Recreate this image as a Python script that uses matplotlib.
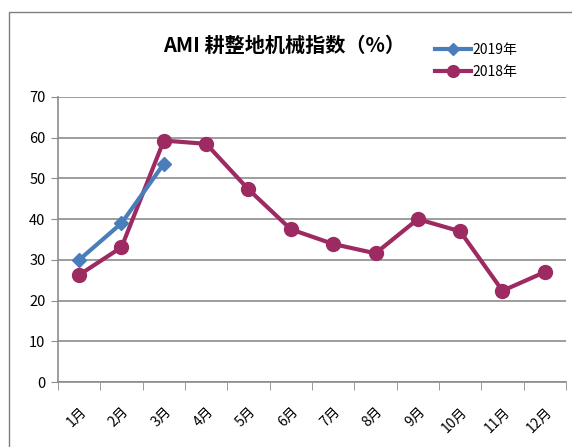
import numpy as np
import matplotlib
matplotlib.use("Agg")
import matplotlib.pyplot as plt
from matplotlib.patches import Rectangle

plt.rcParams['font.family'] = ['Noto Sans CJK SC', 'DejaVu Sans']

months = ['1月', '2月', '3月', '4月', '5月', '6月', '7月', '8月', '9月', '10月', '11月', '12月']
ami_2019 = [30.0, 39.0, 53.6]
ami_2018 = [26.3, 33.1, 59.3, 58.5, 47.3, 37.5, 33.9, 31.6, 40.0, 37.0, 22.4, 27.0]

blue = '#4a7ebb'
plum = '#9e2a62'
grid_col = '#8c8c8c'

fig = plt.figure(figsize=(5.72, 4.47), dpi=100)
ax = fig.add_axes([58 / 572, 65 / 447, 508 / 572, 285 / 447])

# outer chart frame (cut off at right and bottom)
fig.patches.append(Rectangle((9 / 572, -0.05), 1.2, 1 - 12 / 447 + 0.05,
                             transform=fig.transFigure, fill=False,
                             edgecolor='#7f7f7f', linewidth=1.0))

x = np.arange(len(months))
ax.plot(x[:len(ami_2019)], ami_2019, color=blue, lw=3, marker='D', ms=7,
        label='2019年', zorder=4)
ax.plot(x, ami_2018, color=plum, lw=3, marker='o', ms=10,
        label='2018年', zorder=3)

ax.set_xlim(-0.5, 11.5)
ax.set_ylim(0, 70)
ax.set_yticks(np.arange(0, 71, 10))
ax.yaxis.grid(True, color=grid_col, lw=1.2)
ax.set_axisbelow(True)
ax.tick_params(axis='y', length=5, color=grid_col, labelsize=10.5, pad=4)

ax.set_xticks(x)
ax.set_xticklabels(months, rotation=45, ha='right', va='top',
                   rotation_mode='anchor', fontsize=10)
ax.tick_params(axis='x', which='major', length=0, pad=16)
ax.set_xticks(np.arange(-0.5, 12, 1), minor=True)
ax.tick_params(axis='x', which='minor', length=6, color=grid_col)

for s in ['top', 'right']:
    ax.spines[s].set_visible(False)
for s in ['left', 'bottom']:
    ax.spines[s].set_color(grid_col)
    ax.spines[s].set_linewidth(1.2)

fig.text(284 / 572, 1 - 45 / 447, 'AMI 耕整地机械指数（%）', ha='center',
         va='center', fontsize=14.5, fontweight='bold')

ax.legend(loc='upper left', bbox_to_anchor=(428 / 572, 1 - 36 / 447),
          bbox_transform=fig.transFigure, frameon=False, fontsize=10,
          handlelength=2.6, handletextpad=0.1, labelspacing=0.6,
          borderpad=0, markerscale=0.85)

fig.savefig('out.png', dpi=100)
